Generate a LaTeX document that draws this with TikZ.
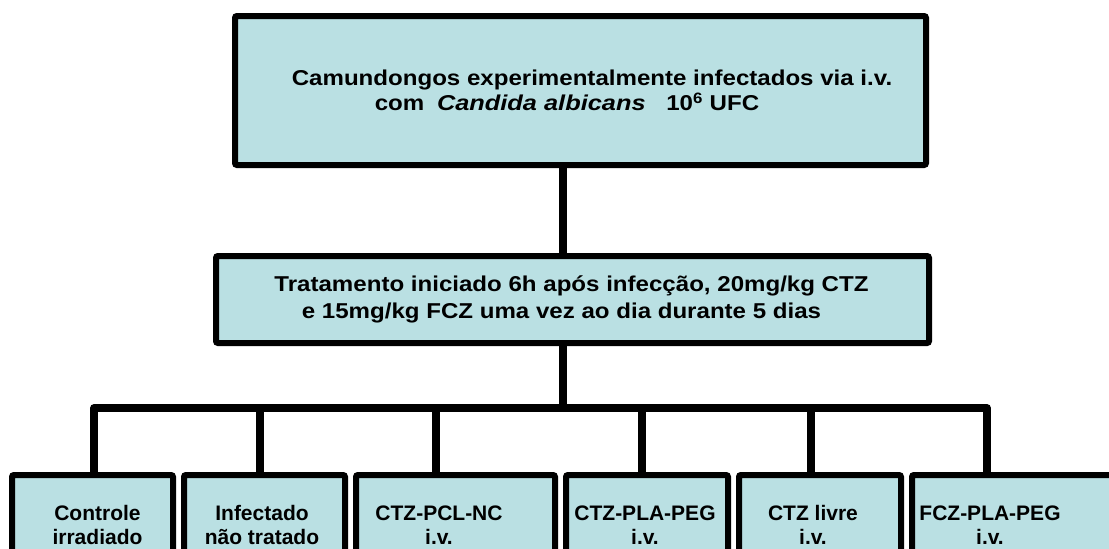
\documentclass[tikz,border=0pt]{standalone}
\usepackage{fontspec}
\setmainfont{Liberation Sans}
\newfontfamily\widefont[FakeStretch=1.12]{Liberation Sans}
\newfontfamily\wideital[FakeStretch=1.18]{Liberation Sans Bold Italic}
\definecolor{boxfill}{HTML}{BAE0E3}
\begin{document}
\begin{tikzpicture}[x=1pt,y=-1pt,
  box/.style={draw=black, line width=6pt, fill=boxfill, rounded corners=2pt, inner sep=0pt},
  link/.style={draw=black, line width=7.5pt, line join=round},
  maintext/.style={font=\widefont\bfseries\fontsize{21.5}{25.5}\selectfont, align=center, inner sep=0pt},
  midtext/.style={font=\widefont\bfseries\fontsize{21.5}{27}\selectfont, align=center, inner sep=0pt},
  leaftext/.style={font=\bfseries\fontsize{21}{24.5}\selectfont, align=center, inner sep=0pt}]
\useasboundingbox (0,0) rectangle (1109,549);
\clip (0,0) rectangle (1109,549);

% top box
\node[box, minimum width=691pt, minimum height=149pt] (top) at (580.5,90.5) {};
\node[maintext] (toptxt) at (592,90.5) {Camundongos experimentalmente infectados via i.v.\\com\hspace{6pt} {\wideital Candida albicans}\hspace{14pt} 10\textsuperscript{6} UFC\hspace*{50pt}};

% middle box
\node[box, minimum width=713pt, minimum height=87pt] (mid) at (572.5,299.5) {};
\node[midtext] (midtxt) at (571.5,299.5) {Tratamento iniciado 6h após infecção, 20mg/kg CTZ\\e 15mg/kg FCZ uma vez ao dia durante 5 dias\hspace*{20pt}};

% leaf boxes
\node[box, minimum width=161pt, minimum height=120pt] (l1) at (92.5,535) {};
\node[box, minimum width=161pt, minimum height=120pt] (l2) at (264.5,535) {};
\node[box, minimum width=199pt, minimum height=120pt] (l3) at (455.5,535) {};
\node[box, minimum width=162pt, minimum height=120pt] (l4) at (647,535) {};
\node[box, minimum width=162pt, minimum height=120pt] (l5) at (820,535) {};
\node[box, minimum width=215pt, minimum height=120pt] (l6) at (1019.5,535) {};

\node[leaftext] (t1) at (97.5,525) {Controle\\irradiado};
\node[leaftext] (t2) at (262,525) {Infectado\\não tratado};
\node[leaftext] (t3) at (439,525) {CTZ-PCL-NC\\i.v.};
\node[leaftext] (t4) at (645,525) {CTZ-PLA-PEG\\i.v.};
\node[leaftext] (t5) at (813,525) {CTZ livre\\i.v.};
\node[leaftext] (t6) at (990,525) {FCZ-PLA-PEG\\i.v.};

% connectors
\coordinate (stem) at (563,0);
\coordinate (bus) at (563,408);
\coordinate (d1) at (94,408);
\coordinate (d2) at (260,408);
\coordinate (d3) at (436,408);
\coordinate (d4) at (642,408);
\coordinate (d5) at (811,408);
\coordinate (d6) at (987,408);

\draw[link] (top.south -| stem) -- (mid.north -| stem);
\draw[link] (mid.south -| stem) -- (bus);
\draw[link] (l1.north -| d1) -- (d1) -- (d6) -- (l6.north -| d6);
\draw[link] (d2) -- (l2.north -| d2);
\draw[link] (d3) -- (l3.north -| d3);
\draw[link] (d4) -- (l4.north -| d4);
\draw[link] (d5) -- (l5.north -| d5);
\end{tikzpicture}
\end{document}
